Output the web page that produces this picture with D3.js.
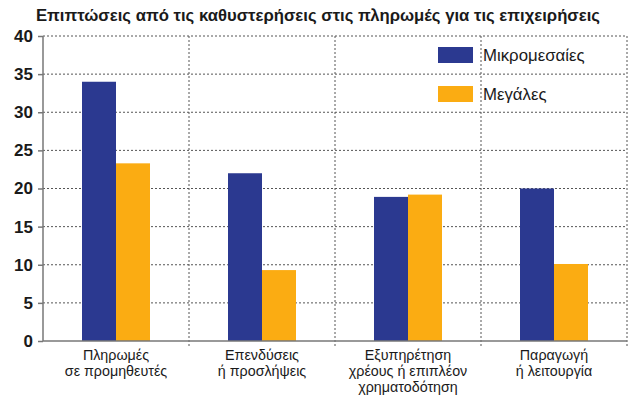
<!DOCTYPE html>
<html>
<head>
<meta charset="utf-8">
<script src="https://d3js.org/d3.v7.min.js"></script>
<style>
body { margin: 0; background: #fff; }
text { font-family: "Liberation Sans", Arial, sans-serif; fill: #1a1a1a; }
.grid line { stroke: #555; stroke-dasharray: 2 2; stroke-width: 1; }
</style>
</head>
<body>
<div id="chart"></div>
<script>
var categories = [
  ["Πληρωμές", "σε προμηθευτές"],
  ["Επενδύσεις", "ή προσλήψεις"],
  ["Εξυπηρέτηση", "χρέους ή επιπλέον", "χρηματοδότηση"],
  ["Παραγωγή", "ή λειτουργία"]
];
var seriesNames = ["Μικρομεσαίες", "Μεγάλες"];
var smallMedium = [34, 22, 18.9, 20];
var large = [23.3, 9.3, 19.2, 10.1];
var yTicks = [0, 5, 10, 15, 20, 25, 30, 35, 40];
var colors = ["#2b3990", "#fbac12"];

var width = 636, height = 397;
var margin = { top: 36, right: 9, bottom: 56, left: 43 };

var svg = d3.select("#chart").append("svg")
  .attr("width", width).attr("height", height);

svg.append("text")
  .attr("x", 318).attr("y", 21)
  .attr("text-anchor", "middle")
  .style("font-size", "16.7px").style("font-weight", "bold")
  .text("Επιπτώσεις από τις καθυστερήσεις στις πληρωμές για τις επιχειρήσεις");

var x = d3.scaleBand()
  .domain(d3.range(categories.length))
  .range([margin.left, width - margin.right]);

var y = d3.scaleLinear().domain([0, 40])
  .range([height - margin.bottom, margin.top]);

var xs = d3.scaleBand().domain([0, 1])
  .range([0, 68]);

// horizontal dashed grid
svg.append("g").attr("class", "grid")
  .selectAll("line").data(yTicks.filter(function(d) { return d > 0; }))
  .enter().append("line")
  .attr("x1", margin.left).attr("x2", width - margin.right)
  .attr("y1", function(d) { return y(d); })
  .attr("y2", function(d) { return y(d); });

// vertical dashed dividers
svg.append("g").attr("class", "grid")
  .selectAll("line").data(d3.range(1, categories.length + 1))
  .enter().append("line")
  .attr("x1", function(d) { return x(d - 1) + x.bandwidth(); })
  .attr("x2", function(d) { return x(d - 1) + x.bandwidth(); })
  .attr("y1", y(40)).attr("y2", y(0) + 5);

// bars
var groups = svg.append("g").selectAll("g")
  .data(categories.map(function(c, i) { return [smallMedium[i], large[i]]; }))
  .enter().append("g")
  .attr("transform", function(d, i) {
    return "translate(" + (x(i) + x.bandwidth() / 2 - 34) + ",0)";
  });

groups.selectAll("rect").data(function(d) { return d; })
  .enter().append("rect")
  .attr("x", function(d, j) { return xs(j); })
  .attr("width", xs.bandwidth())
  .attr("y", function(d) { return y(d); })
  .attr("height", function(d) { return y(0) - y(d); })
  .attr("fill", function(d, j) { return colors[j]; });

// y axis
var yAxis = svg.append("g")
  .attr("transform", "translate(" + margin.left + ",0)")
  .call(d3.axisLeft(y).tickValues(yTicks).tickSize(5).tickPadding(5));
yAxis.selectAll("line, path").attr("stroke", "#777").attr("stroke-width", 1.5);
yAxis.select("path").attr("d", "M0," + y(40) + "V" + y(0));
yAxis.selectAll("text")
  .style("font-size", "17px").style("font-weight", "bold")
  .style("font-family", "Liberation Sans, Arial, sans-serif")
  .attr("fill", "#1a1a1a");

// x axis line
svg.append("line")
  .attr("x1", margin.left).attr("x2", width - margin.right)
  .attr("y1", y(0)).attr("y2", y(0))
  .attr("stroke", "#777").attr("stroke-width", 1.5);

// category labels
svg.append("g").selectAll("text")
  .data(categories).enter().append("text")
  .attr("text-anchor", "middle")
  .style("font-size", "14.3px")
  .attr("x", function(d, i) { return x(i) + x.bandwidth() / 2; })
  .attr("y", y(0) + 19)
  .selectAll("tspan").data(function(d) { return d; })
  .enter().append("tspan")
  .attr("x", function() { return d3.select(this.parentNode).attr("x"); })
  .attr("dy", function(d, k) { return k === 0 ? 0 : 16; })
  .text(function(d) { return d; });

// legend
var legend = svg.append("g").selectAll("g")
  .data(seriesNames).enter().append("g")
  .attr("transform", function(d, i) { return "translate(438," + (47 + i * 39) + ")"; });
legend.append("rect")
  .attr("width", 35).attr("height", 16)
  .attr("fill", function(d, i) { return colors[i]; });
legend.append("text")
  .attr("x", 45).attr("y", 14)
  .style("font-size", "16.8px")
  .text(function(d) { return d; });
</script>
</body>
</html>
